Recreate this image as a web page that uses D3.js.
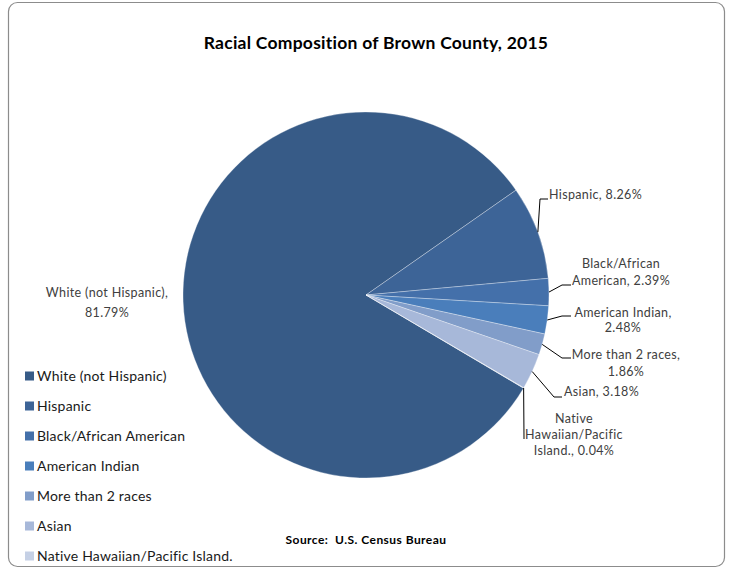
<!DOCTYPE html>
<html>
<head>
<meta charset="utf-8">
<script src="https://cdn.jsdelivr.net/npm/d3@7"></script>
<style>
  html, body { margin: 0; padding: 0; background: #fff; }
  svg { display: block; font-family: Lato, "Open Sans", sans-serif; }
</style>
</head>
<body>
<svg id="chart" width="729" height="569"></svg>
<script>
// Racial composition of Brown County, 2015 (percent of population)
const categories = [
  "White (not Hispanic)",
  "Hispanic",
  "Black/African American",
  "American Indian",
  "More than 2 races",
  "Asian",
  "Native Hawaiian/Pacific Island."
];
const shares = [81.79, 8.26, 2.39, 2.48, 1.86, 3.18, 0.04];
const labelLines = [
  ["White (not Hispanic),", "81.79%"],
  ["Hispanic, 8.26%"],
  ["Black/African", "American, 2.39%"],
  ["American Indian,", "2.48%"],
  ["More than 2 races,", "1.86%"],
  ["Asian, 3.18%"],
  ["Native", "Hawaiian/Pacific", "Island., 0.04%"]
];
const colors = ["#375b87", "#3d6497", "#4470aa", "#4a7ebb", "#819dc9", "#a7b8d9", "#c5d0e5"];

const svg = d3.select("#chart");

// chart frame
svg.append("rect")
  .attr("x", 8.5).attr("y", 2.5)
  .attr("width", 716).attr("height", 564)
  .attr("rx", 9).attr("ry", 9)
  .attr("fill", "#fff").attr("stroke", "#8c8c8c").attr("stroke-width", 1.2);

svg.append("text")
  .attr("x", 376).attr("y", 49)
  .attr("text-anchor", "middle")
  .attr("font-size", 17.5).attr("font-weight", 700).attr("fill", "#000")
  .attr("letter-spacing", 0.25)
  .text("Racial Composition of Brown County, 2015");

const cx = 366, cy = 295, r = 183;
const startDeg = 120.6;
const pie = d3.pie().sort(null).value(d => d)
  .startAngle(startDeg * Math.PI / 180)
  .endAngle(startDeg * Math.PI / 180 + 2 * Math.PI);
const arcs = pie(shares);
const arc = d3.arc().innerRadius(0).outerRadius(r);

const g = svg.append("g").attr("transform", `translate(${cx},${cy})`);
g.selectAll("path.slice")
  .data(arcs)
  .join("path")
  .attr("class", "slice")
  .attr("d", arc)
  .attr("fill", (d, i) => colors[i])
  .attr("stroke", "rgba(255,255,255,0.45)")
  .attr("stroke-width", 0.7);

// label placement: leader elbow/end points and text anchor for each slice
const labelLayout = [
  { leader: null, tx: 107, ty: 297, anchor: "middle" },
  { leader: [[540, 199], [548, 199]], tx: 549, ty: 199, anchor: "start" },
  { leader: [[562, 285], [571, 285]], tx: 621, ty: 268, anchor: "middle" },
  { leader: [[562, 316], [571, 316]], tx: 623, ty: 317, anchor: "middle" },
  { leader: [[562, 358], [571, 358]], tx: 626, ty: 359, anchor: "middle" },
  { leader: [[554, 397], [562, 397]], tx: 564, ty: 396, anchor: "start" },
  { leader: [[524, 439]], tx: 574, ty: 423, anchor: "middle" }
];
const lineGap = [20, 0, 17, 15, 17, 0, 16];

arcs.forEach((a, i) => {
  const L = labelLayout[i];
  if (L.leader) {
    const mid = (a.startAngle + a.endAngle) / 2;
    const p0 = [cx + r * Math.sin(mid), cy - r * Math.cos(mid)];
    svg.append("path")
      .attr("d", d3.line()([p0, ...L.leader]))
      .attr("fill", "none").attr("stroke", "#000").attr("stroke-width", 1);
  }
  const t = svg.append("text")
    .attr("text-anchor", L.anchor)
    .attr("font-size", 12.5).attr("fill", "#404040")
    .attr("letter-spacing", 0.35);
  labelLines[i].forEach((line, k) => {
    t.append("tspan").attr("x", L.tx).attr("y", L.ty + k * lineGap[i]).text(line);
  });
});

// legend
const legend = svg.append("g");
categories.forEach((c, i) => {
  const y = 376 + i * 30;
  legend.append("rect")
    .attr("x", 25).attr("y", y - 4.5).attr("width", 9).attr("height", 9)
    .attr("fill", colors[i]);
  legend.append("text")
    .attr("x", 37).attr("y", y + 5)
    .attr("font-size", 14).attr("fill", "#1a1a1a")
    .attr("letter-spacing", 0.2)
    .text(c);
});

svg.append("text")
  .attr("x", 366).attr("y", 544)
  .attr("text-anchor", "middle")
  .attr("font-size", 12).attr("font-weight", 700).attr("fill", "#000")
  .attr("letter-spacing", 0.45)
  .attr("xml:space", "preserve")
  .text("Source:  U.S. Census Bureau");
</script>
</body>
</html>
